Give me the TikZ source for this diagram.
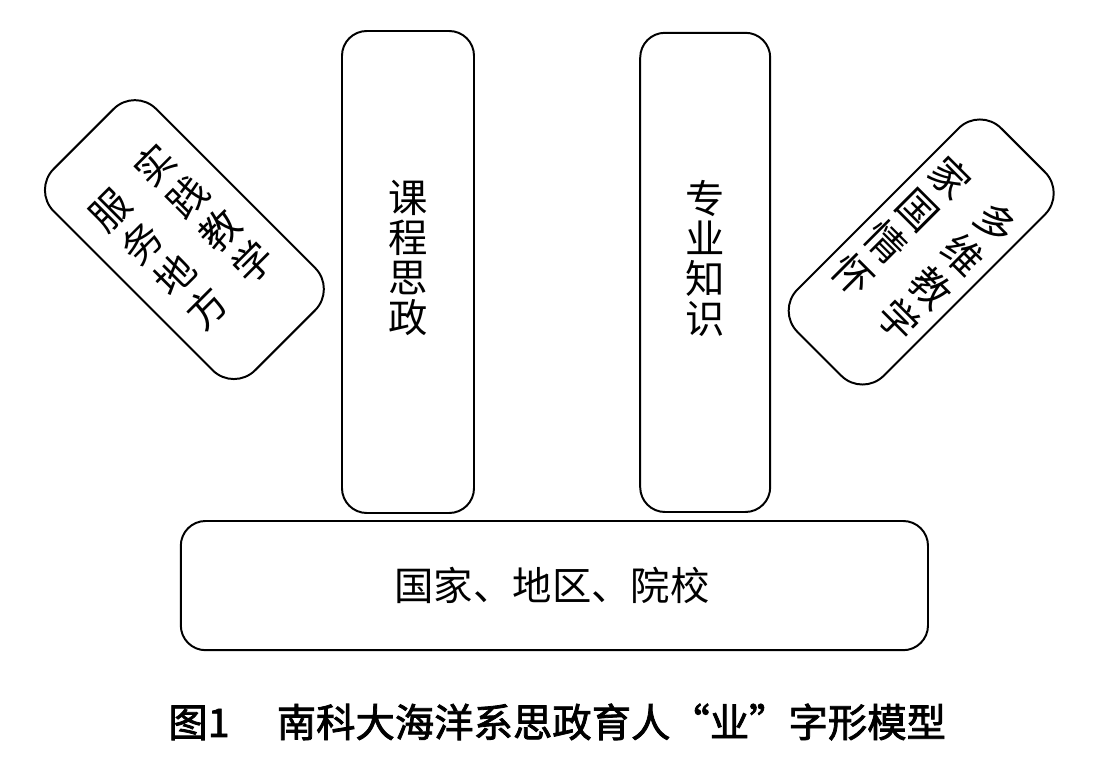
\documentclass[tikz,border=0pt]{standalone}
\usepackage{fontspec}
\newfontfamily\cjk{Noto Sans CJK SC}
\newfontfamily\cjkgras[FakeBold=2]{Noto Sans CJK SC}
\usetikzlibrary{positioning}

\begin{document}
\begin{tikzpicture}[
  font=\cjk,
  boite/.style={
    draw, line width=1.4pt, rounded corners=0.62cm,
    inner sep=0pt, align=center
  },
  pilier/.style={boite, minimum width=3.3cm, minimum height=12.05cm},
  socle/.style={boite, minimum width=18.68cm, minimum height=3.23cm},
  aile/.style={boite, rounded corners=0.75cm},
  texte/.style={font=\cjk\fontsize{28}{28.45}\selectfont, inner sep=0pt, align=center},
  legende/.style={font=\cjkgras\fontsize{28}{30}\selectfont, inner sep=0pt}
]
\useasboundingbox (0,0) rectangle (27.35,19.1);

% les deux piliers et le socle
\node[pilier] (kecheng) at (10.2, 12.3) {};
\node[pilier, minimum width=3.25cm, minimum height=11.98cm] (zhuanye) at (17.63, 12.29) {};
\node[socle] (socle) at (13.86, 4.46) {};

\node[texte] (kechengTxt) at ([yshift=0.35cm]kecheng.center) {课\\程\\思\\政};
\node[texte] (zhuanyeTxt) at ([yshift=0.35cm]zhuanye.center) {专\\业\\知\\识};
\node[texte] (socleTxt) at ([xshift=-0.06cm]socle.center) {国家、地区、院校};

% les deux ailes inclinees
\node[aile, rotate=45, minimum width=3.62cm, minimum height=7.12cm] (pratique) at (4.61, 13.11) {%
  \fontsize{28}{30}\selectfont
  \begin{tabular}{@{}c@{\hspace{0.62cm}}c@{}}
  服 & 实 \\
  务 & 践 \\
  地 & 教 \\
  方 & 学 \\
  \end{tabular}%
};

\node[aile, rotate=-45, minimum width=3.05cm, minimum height=7.2cm] (patrie) at (23.03, 12.8) {%
  \fontsize{28}{30}\selectfont
  \begin{tabular}{@{}c@{\hspace{0.62cm}}c@{}}
  家 & 多 \\
  国 & 维 \\
  情 & 教 \\
  怀 & 学 \\
  \end{tabular}%
};

\node[legende] (titre) at (13.93, 1.05) {图1\hspace{1.2em}南科大海洋系思政育人“业”字形模型};
\end{tikzpicture}
\end{document}
